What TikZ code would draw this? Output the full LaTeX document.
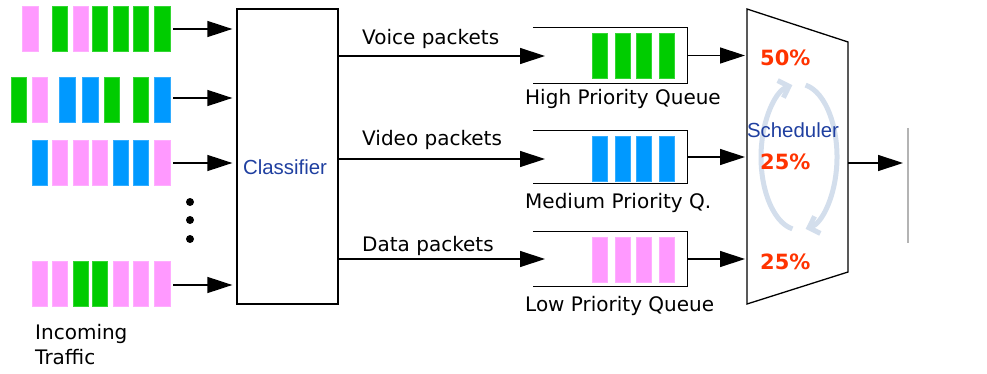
\documentclass[tikz,border=0pt]{standalone}
\usepackage{fontspec}
\setmainfont{DejaVu Sans}
\newfontfamily\arialf{Liberation Sans}
\usetikzlibrary{arrows.meta}
\definecolor{pgreen}{HTML}{00CC00}
\definecolor{pblue}{HTML}{0099FF}
\definecolor{ppink}{HTML}{FF99FF}
\definecolor{dblue}{HTML}{1F3FA0}
\definecolor{pred}{HTML}{FF3300}
\definecolor{lblue}{HTML}{D3DEEC}
\definecolor{lgrey}{HTML}{B4B4B4}
\tikzset{
  pkt/.style={rectangle, inner sep=0pt, minimum width=15.5pt, minimum height=45pt, fill=#1, draw=#1!80!white, line width=0.5pt},
  arr/.style={line width=1.3pt, -{Triangle[length=25pt,width=16pt]}},
  lbl/.style={font=\fontsize{20}{24}\selectfont, anchor=base west, inner sep=0pt},
  blbl/.style={font=\arialf\fontsize{20.4}{24}\selectfont, text=dblue, inner sep=0pt},
  pct/.style={font=\bfseries\fontsize{21}{24}\selectfont, text=pred, anchor=west, inner sep=0pt},
  dotn/.style={circle, fill=black, inner sep=0pt, minimum size=8pt},
  boxn/.style={rectangle, draw=black, line width=1.3pt, inner sep=0pt},
  qn/.style={rectangle, inner sep=0pt, minimum width=154pt, minimum height=55pt},
  qline/.style={line width=1.3pt},
  rr/.style={line width=5pt, draw=lblue, -{Straight Barb[length=9pt,width=18pt]}}
}
\begin{document}
\begin{tikzpicture}[x=1pt,y=-1pt]
\useasboundingbox (0,0) rectangle (987,374);
% incoming packet rows
\foreach \xx/\cc [count=\i] in {30/ppink,59.5/pgreen,80.5/ppink,99.5/pgreen,120.5/pgreen,140.5/pgreen,162/pgreen}
  \node[pkt=\cc] (ra\i) at (\xx,29) {};
\foreach \xx/\cc [count=\i] in {18.5/pgreen,39.5/ppink,67/pblue,90/pblue,111.5/pgreen,140.5/pgreen,162/pblue}
  \node[pkt=\cc] (rb\i) at (\xx,100) {};
\foreach \xx/\cc [count=\i] in {39.5/pblue,59.5/ppink,80.5/ppink,99.5/ppink,120.5/pblue,140.5/pblue,162/ppink}
  \node[pkt=\cc] (rc\i) at (\xx,162.5) {};
\foreach \xx/\cc [count=\i] in {39.5/ppink,59.5/ppink,80.5/pgreen,99.5/pgreen,120.5/ppink,140.5/ppink,162/ppink}
  \node[pkt=\cc] (rd\i) at (\xx,283.5) {};
% dots
\node[dotn] (d1) at (190,202) {};
\node[dotn] (d2) at (190,220) {};
\node[dotn] (d3) at (190,239) {};
% labels
\node[lbl] (inc1) at (35,339) {Incoming};
\node[lbl] (inc2) at (35,364) {Traffic};
% classifier
\node[boxn, minimum width=101pt, minimum height=295pt] (cls) at (287.5,156.5) {};
\node[blbl] (clsl) at (285,167) {Classifier};
% arrows into classifier
\coordinate (ia) at (173,29);
\coordinate (ib) at (173,98);
\coordinate (ic) at (173,163);
\coordinate (id) at (173,285);
\foreach \c in {ia,ib,ic,id}
  \draw[arr, shorten >=4pt] (\c) -- (\c -| cls.west);
% queues
\node[qn] (q1) at (610,55.5) {};
\node[qn, minimum height=52pt] (q2) at (610,157) {};
\node[qn, minimum height=54pt] (q3) at (610,259) {};
\foreach \q in {q1,q2,q3}
  \draw[qline] (\q.north west) -- (\q.north east) -- (\q.south east) -- (\q.south west);
\foreach \xx [count=\i] in {599.5,622.5,643.5,666.5} {
  \node[pkt=pgreen] (qa\i) at (\xx,55.5) {};
  \node[pkt=pblue] (qb\i) at (\xx,158.5) {};
  \node[pkt=ppink] (qc\i) at (\xx,259.5) {};
}
% classifier outputs
\coordinate (q1in) at (545,56);
\coordinate (q2in) at (545,159);
\coordinate (q3in) at (545,259);
\foreach \c in {q1in,q2in,q3in}
  \draw[arr] (\c -| cls.east) -- (\c);
\node[lbl] (lv) at (362,45) {Voice packets};
\node[lbl] (lvd) at (362,146) {Video packets};
\node[lbl] (ld) at (362,251) {Data packets};
\node[lbl] (lh) at (525,105) {High Priority Queue};
\node[lbl] (lm) at (525,208) {Medium Priority Q.};
\node[lbl] (ll) at (525,311) {Low Priority Queue};
% scheduler
\coordinate (stl) at (747,9);
\coordinate (sbl) at (747,304);
\coordinate (str) at (848,42);
\coordinate (sbr) at (848,272);
\draw[line width=1.3pt] (stl) -- (str) -- (sbr) -- (sbl) -- cycle;
\foreach \q in {q1,q2,q3}
  \draw[arr, shorten >=2pt] (\q.east) -- (\q.east -| stl);
% rotation arrows
\coordinate (rc) at (799,157);
\draw[rr] ([shift={(260:38pt and 73pt)}]rc) arc[start angle=260, end angle=100, x radius=38pt, y radius=73pt];
\draw[rr] ([shift={(80:38pt and 73pt)}]rc) arc[start angle=80, end angle=-80, x radius=38pt, y radius=73pt];
\node[blbl] (sch) at (793,130) {Scheduler};
\node[pct] (p1) at (760,58) {50\%};
\node[pct] (p2) at (760,162) {25\%};
\node[pct] (p3) at (760,262) {25\%};
% output
\coordinate (sout) at (848,163);
\coordinate (gl1) at (908,128);
\coordinate (gl2) at (908,243);
\draw[arr, shorten >=5pt] (sout) -- (sout -| gl1);
\draw[lgrey, line width=1.3pt] (gl1) -- (gl2);
\end{tikzpicture}
\end{document}
